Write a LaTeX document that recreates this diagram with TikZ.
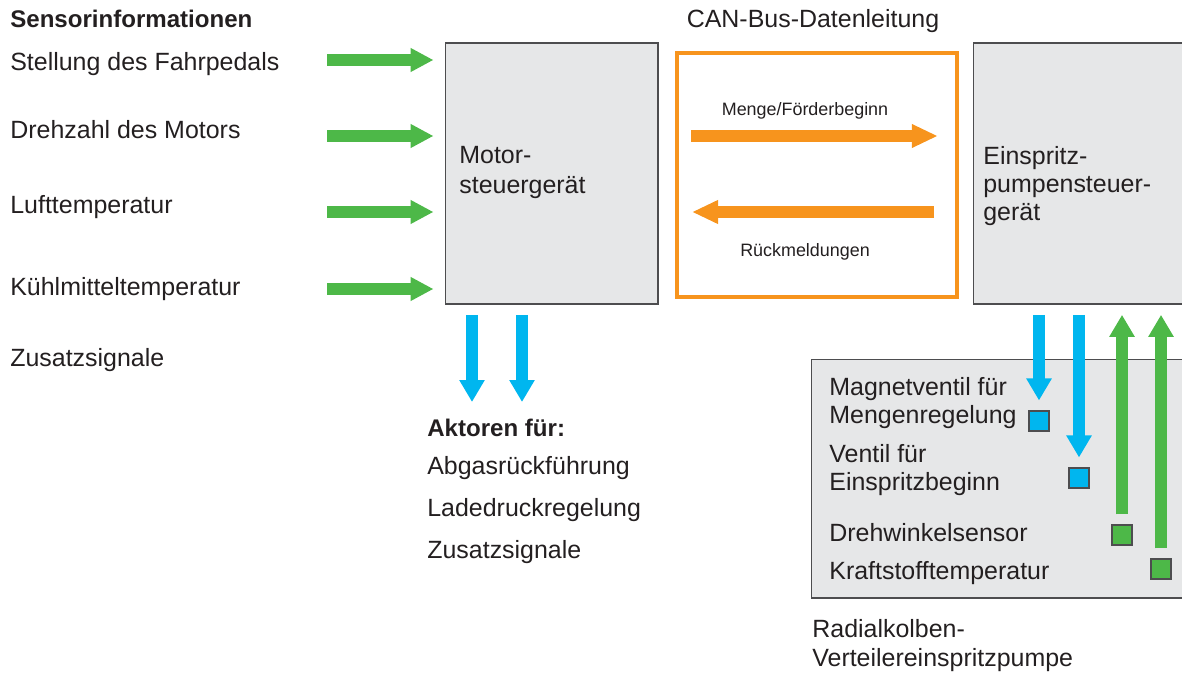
\documentclass[tikz,border=0pt]{standalone}
\usepackage{fontspec}
\setmainfont{Liberation Sans}
\usetikzlibrary{arrows.meta}
\definecolor{InkDark}{HTML}{231F20}
\definecolor{SigGreen}{HTML}{4DB848}
\definecolor{SigBlue}{HTML}{00B6EF}
\definecolor{BusOrange}{HTML}{F7941D}
\definecolor{PanelGray}{HTML}{E6E7E8}
\definecolor{EdgeGray}{HTML}{4D4D4F}
\tikzset{
  txt/.style={anchor=base west, inner sep=0pt, align=left,
              font=\fontsize{14.2}{15.5}\selectfont\color{InkDark}},
  headtxt/.style={anchor=base west, inner sep=0pt,
                  font=\fontsize{13.7}{15.5}\selectfont\bfseries\color{InkDark}},
  smalltxt/.style={anchor=base, inner sep=0pt,
                   font=\fontsize{10.2}{12}\selectfont\color{InkDark}},
  ecubox/.style={draw=EdgeGray, fill=PanelGray, line width=0.8pt,
                 anchor=north west, inner sep=0pt},
  busbox/.style={draw=BusOrange, line width=2.2pt, anchor=north west, inner sep=0pt},
  partbox/.style={draw=EdgeGray, line width=0.6pt, minimum size=0.4cm, inner sep=0pt},
  inarrow/.style={-{Triangle[length=0.46cm,width=0.45cm]}, line width=0.23cm, SigGreen},
  outarrow/.style={-{Triangle[length=0.44cm,width=0.48cm]}, line width=0.25cm, SigBlue},
  backarrow/.style={-{Triangle[length=0.44cm,width=0.48cm]}, line width=0.25cm, SigGreen},
  busarrow/.style={-{Triangle[length=0.52cm,width=0.44cm]}, line width=0.23cm, BusOrange},
}

\begin{document}
\begin{tikzpicture}[x=0.02cm, y=-0.02cm]
  \useasboundingbox (0,0) rectangle (1182,675);
  \clip (0,0) rectangle (1182,675);

  % ---- Control units ----
  \node[ecubox, minimum width=4.26cm, minimum height=5.22cm] (motor) at (444.5,42.5) {};
  \node[busbox, minimum width=5.6cm, minimum height=4.88cm] (bus) at (675,51) {};
  \node[ecubox, minimum width=5.2cm, minimum height=5.22cm] (pumpecu) at (972.5,42.5) {};
  \node[ecubox, minimum width=8cm, minimum height=4.78cm] (pump) at (810.5,358.5) {};

  \node[txt, font=\fontsize{14.2}{17.5}\selectfont\color{InkDark}] (motortxt) at (459,194)
        {Motor-\\steuergerät};
  \node[txt, font=\fontsize{14.2}{16.2}\selectfont\color{InkDark}] (pumpecutxt) at (983,221)
        {Einspritz-\\pumpensteuer-\\gerät};
  \node[txt, anchor=base] (cantxt) at (813,28) {CAN-Bus-Datenleitung};

  % ---- Sensor inputs (left) ----
  \node[headtxt] (senshead) at (10,28) {Sensorinformationen};
  \node[txt] (pedal)  at (10,71)  {Stellung des Fahrpedals};
  \node[txt] (speed)  at (10,139) {Drehzahl des Motors};
  \node[txt] (air)    at (10,214) {Lufttemperatur};
  \node[txt] (cool)   at (10,296) {Kühlmitteltemperatur};
  \node[txt] (extra)  at (10,366) {Zusatzsignale};

  \coordinate (in1) at (327,60);
  \coordinate (in2) at (327,136);
  \coordinate (in3) at (327,212);
  \coordinate (in4) at (327,289);

  % ---- Actuators (below motor unit) ----
  \node[headtxt] (acthead) at (427,436) {Aktoren für:};
  \node[txt] (egr)    at (427,474) {Abgasrückführung};
  \node[txt] (boost)  at (427,516) {Ladedruckregelung};
  \node[txt] (actx)   at (427,558) {Zusatzsignale};

  \coordinate (act1) at (472,402);
  \coordinate (act2) at (522,402);

  % ---- CAN bus messages ----
  \node[smalltxt] (qtxt)  at (805,116) {Menge/Förderbeginn};
  \node[smalltxt] (fbtxt) at (805,257) {Rückmeldungen};
  \coordinate (qstart)  at (691,136);
  \coordinate (fbstart) at (934,212);

  % ---- Pump components ----
  \node[txt] (mvtxt)  at (829,423) {Magnetventil für\\Mengenregelung};
  \node[txt] (svtxt)  at (829,490) {Ventil für\\Einspritzbeginn};
  \node[txt] (angtxt) at (829,541) {Drehwinkelsensor};
  \node[txt] (fttxt)  at (829,579) {Kraftstofftemperatur};
  \node[txt, font=\fontsize{14.2}{16}\selectfont\color{InkDark}] (pumptxt) at (812,666)
        {Radialkolben-\\Verteilereinspritzpumpe};

  \node[partbox, fill=SigBlue]  (mv)  at (1039,421) {};
  \node[partbox, fill=SigBlue]  (sv)  at (1079,478) {};
  \node[partbox, fill=SigGreen] (ang) at (1122,535) {};
  \node[partbox, fill=SigGreen] (ft)  at (1161,569) {};

  % ---- Arrows ----
  \draw[inarrow, shorten >=0.22cm] (in1) -- (in1 -| motor.west);
  \draw[inarrow, shorten >=0.22cm] (in2) -- (in2 -| motor.west);
  \draw[inarrow, shorten >=0.22cm] (in3) -- (in3 -| motor.west);
  \draw[inarrow, shorten >=0.22cm] (in4) -- (in4 -| motor.west);

  \draw[outarrow, shorten <=0.2cm] (act1 |- motor.south) -- (act1);
  \draw[outarrow, shorten <=0.2cm] (act2 |- motor.south) -- (act2);

  \draw[busarrow, shorten >=0.42cm] (qstart) -- (qstart -| bus.east);
  \draw[busarrow, shorten >=0.34cm] (fbstart) -- (fbstart -| bus.west);

  \draw[outarrow, shorten <=0.2cm, shorten >=0.2cm] (mv |- pumpecu.south) -- (mv.north);
  \draw[outarrow, shorten <=0.2cm, shorten >=0.2cm] (sv |- pumpecu.south) -- (sv.north);
  \draw[backarrow, shorten <=0.2cm, shorten >=0.2cm] (ang.north) -- (ang |- pumpecu.south);
  \draw[backarrow, shorten <=0.2cm, shorten >=0.2cm] (ft.north) -- (ft |- pumpecu.south);

\end{tikzpicture}
\end{document}
